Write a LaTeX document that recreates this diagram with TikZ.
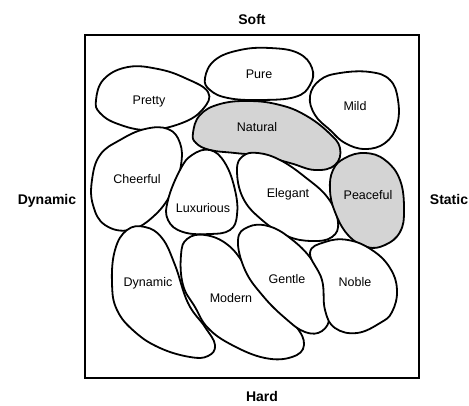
\documentclass[tikz,border=0pt]{standalone}
\usepackage{fontspec}
\setmainfont{Liberation Sans}
\begin{document}
\begin{tikzpicture}[x=1pt,y=-1pt,
  blob/.style={draw=black,line width=1.8pt,fill=white},
  grayblob/.style={draw=black,line width=1.8pt,fill=black!17},
  lab/.style={font=\fontsize{12.5}{14}\selectfont,text height=9pt,text depth=0pt,inner sep=0pt},
  axis/.style={font=\fontsize{14}{16}\selectfont\bfseries,text height=10pt,text depth=0pt,inner sep=0pt}]
\useasboundingbox (0,0) rectangle (469,405);
\draw[line width=1.6pt] (85,35) rectangle (419,378);
% blobs
\draw[blob] plot[smooth cycle,tension=0.7] coordinates {(96,100) (104,79) (128,67) (158,69) (185,78) (208,92) (203,109) (182,123) (148,130) (118,124) (100,113)};
\draw[blob] plot[smooth cycle,tension=0.7] coordinates {(205,78) (215,60) (240,50) (270,48) (298,53) (312,68) (310,85) (295,97) (260,100) (228,98) (210,90)};
\draw[blob] plot[smooth cycle,tension=0.7] coordinates {(310,96) (320,80) (340,73) (370,72) (390,80) (398,100) (397,125) (385,143) (365,149) (345,143) (330,130) (315,115)};
\draw[grayblob] plot[smooth cycle,tension=0.7] coordinates {(193,133) (200,115) (220,104) (250,101) (280,105) (305,115) (328,132) (340,148) (335,165) (315,170) (290,163) (262,156) (235,153) (210,150) (196,143)};
\draw[blob] plot[smooth cycle,tension=0.7] coordinates {(120,140) (145,129) (168,129) (180,143) (181,165) (173,190) (155,215) (130,230) (105,225) (93,205) (92,180) (100,155)};
\draw[blob] plot[smooth cycle,tension=0.7] coordinates {(180,170) (192,155) (210,150) (225,163) (235,190) (237,215) (230,230) (210,234) (183,232) (168,220) (168,200)};
\draw[blob] plot[smooth cycle,tension=0.7] coordinates {(237,170) (243,156) (258,153) (280,160) (305,177) (328,198) (338,222) (332,237) (312,241) (287,236) (262,220) (243,198)};
\draw[grayblob] plot[smooth cycle,tension=0.7] coordinates {(333,170) (345,158) (365,153) (385,160) (400,180) (404,210) (400,232) (385,245) (367,247) (348,235) (335,212) (330,190)};
\draw[blob] plot[smooth cycle,tension=0.7] coordinates {(115,250) (127,230) (145,227) (162,238) (175,265) (188,303) (205,327) (215,345) (208,356) (190,357) (160,348) (135,332) (117,310) (112,283)};
\draw[blob] plot[smooth cycle,tension=0.7] coordinates {(181,255) (187,239) (205,235) (228,245) (247,268) (270,300) (295,325) (304,345) (292,357) (265,358) (232,345) (208,328) (195,307) (183,285)};
\draw[blob] plot[smooth cycle,tension=0.7] coordinates {(238,240) (248,227) (268,226) (290,238) (312,260) (326,288) (330,315) (322,331) (305,332) (285,318) (263,296) (245,270)};
\draw[blob] plot[smooth cycle,tension=0.7] coordinates {(310,253) (325,242) (348,240) (372,250) (390,268) (397,290) (392,312) (380,323) (357,333) (335,328) (325,310) (322,280)};
% labels
\node[lab] (pretty) at (149,100) {Pretty};
\node[lab] (pure) at (259,74) {Pure};
\node[lab] (mild) at (355,106) {Mild};
\node[lab] (natural) at (257,127) {Natural};
\node[lab] (cheerful) at (137,179) {Cheerful};
\node[lab] (luxurious) at (203,208) {Luxurious};
\node[lab] (elegant) at (288,193) {Elegant};
\node[lab] (peaceful) at (368,195) {Peaceful};
\node[lab] (dynamicin) at (148,282) {Dynamic};
\node[lab] (modern) at (231,298) {Modern};
\node[lab] (gentle) at (287,279) {Gentle};
\node[lab] (noble) at (355,282) {Noble};
% axis labels
\node[axis] (soft) at (252,19) {Soft};
\node[axis] (hard) at (262,396) {Hard};
\node[axis] (dynamic) at (47,199) {Dynamic};
\node[axis] (static) at (449,199) {Static};
\end{tikzpicture}
\end{document}
